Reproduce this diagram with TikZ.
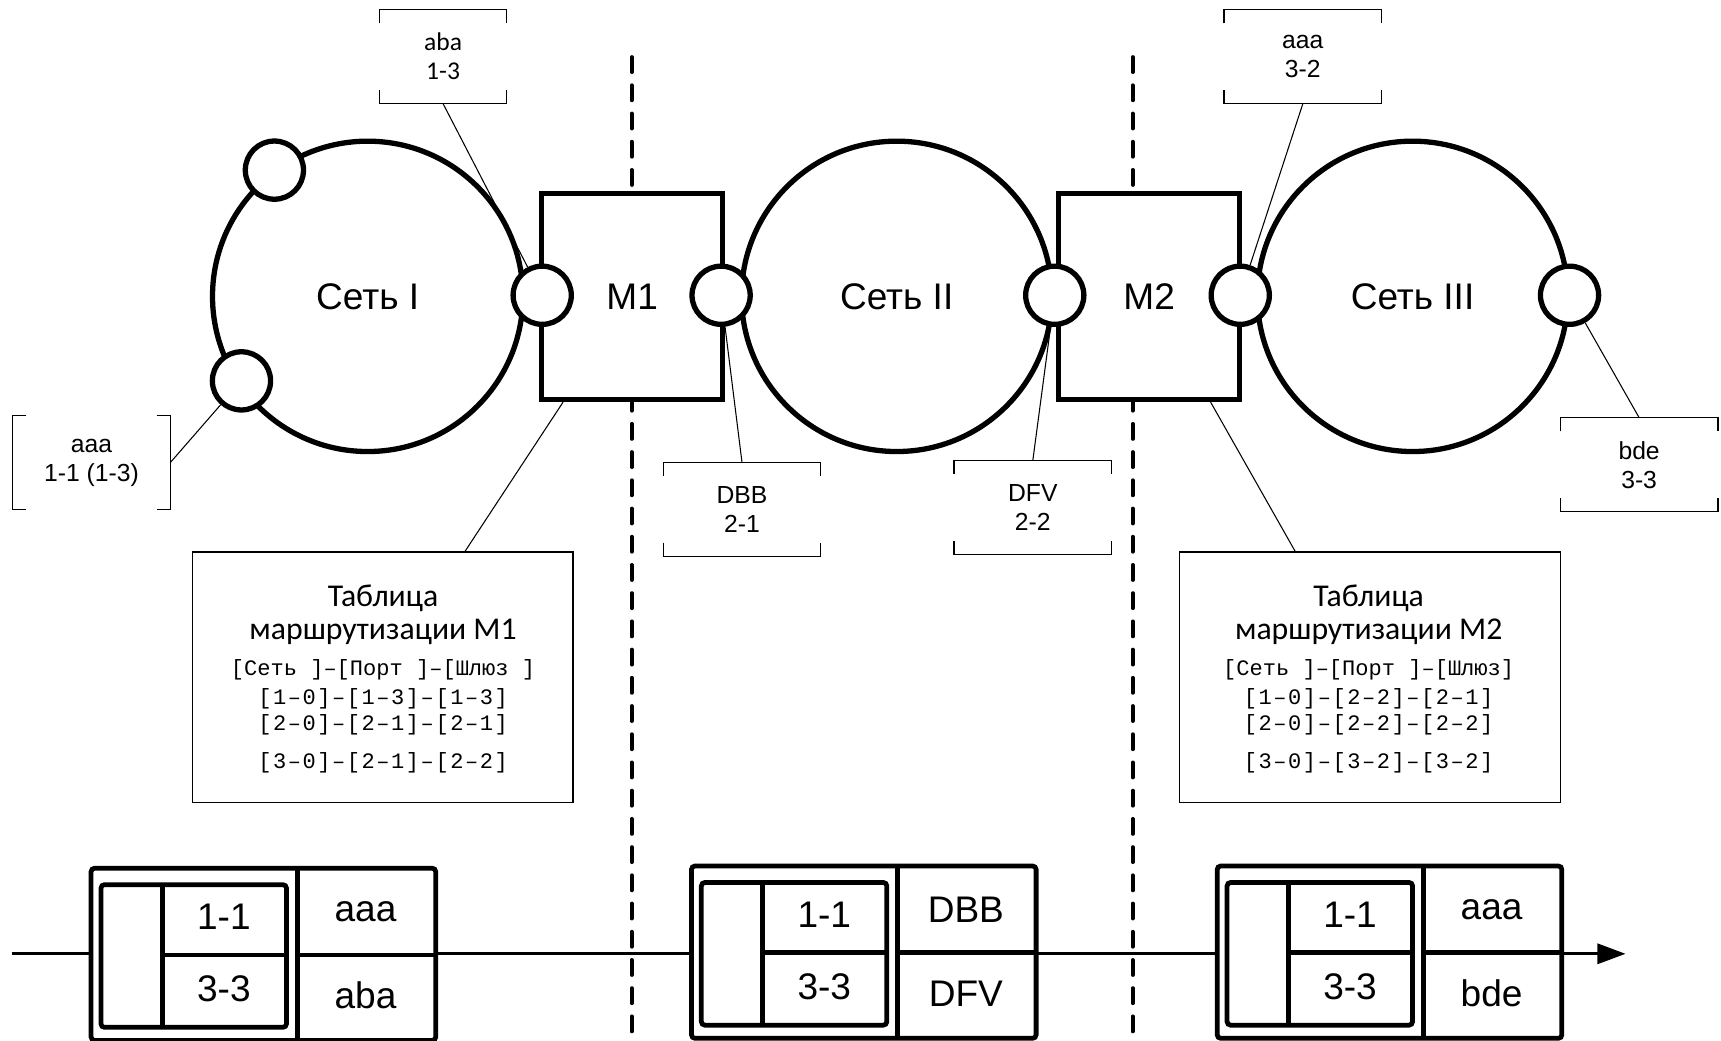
\documentclass[tikz,border=0pt]{standalone}
\usepackage{fontspec}
\setmainfont{Liberation Sans}
\newfontfamily\calfont{Carlito}
\newfontfamily\courfont{Liberation Mono}
\newfontfamily\courwide[LetterSpace=7]{Liberation Mono}
\usetikzlibrary{arrows.meta,calc}

\begin{document}
\begin{tikzpicture}[x=0.6224pt, y=-0.6224pt,
    net/.style={circle, draw, line width=3pt, minimum size=176pt, inner sep=0pt, font=\fontsize{21}{24}\selectfont},
    port/.style={circle, draw, fill=white, line width=3pt, minimum size=33pt, inner sep=0pt},
    router/.style={rectangle, draw, fill=white, line width=3pt, minimum width=102.7pt, minimum height=117pt, font=\fontsize{21}{24}\selectfont},
    lbl/.style={minimum width=89pt, minimum height=53pt, inner sep=0pt, align=center, font=\fontsize{14}{16.5}\selectfont},
    brk/.style={line width=0.7pt},
    leader/.style={line width=0.6pt},
    rtab/.style={draw, line width=0.8pt, minimum width=216pt, minimum height=142pt},
    ttl/.style={anchor=base, font=\calfont\fontsize{18}{20}\selectfont},
    hdr/.style={anchor=base, font=\courfont\fontsize{12.5}{14}\selectfont},
    row/.style={anchor=base, font=\courwide\fontsize{12.5}{14}\selectfont},
    pkt/.style={line width=2.7pt},
    cell/.style={font=\fontsize{21}{24}\selectfont}]
\useasboundingbox (0,0) rectangle (1568,948);

% boundaries between the networks
\draw[line width=2.2pt, dash pattern=on 8.5pt off 7.5pt, line cap=round] (575.5,52) -- (575.5,952);
\draw[line width=2.2pt, dash pattern=on 8.5pt off 7.5pt, line cap=round] (1032,52) -- (1032,952);

% networks and routers
\node[net] (net1) at (335,270) {Сеть I};
\node[net] (net2) at (817,270) {Сеть II};
\node[net] (net3) at (1287,270) {Сеть III};
\node[router] (m1) at (576,270) {M1};
\node[router] (m2) at (1047,270) {M2};

\node[port] (p11) at (220,347) {};
\node[port] (p12) at (250,155) {};
\node[port] (p13) at (494,269) {};
\node[port] (p21) at (657,269) {};
\node[port] (p22) at (961,269) {};
\node[port] (p32) at (1130,269) {};
\node[port] (p33) at (1430,269) {};

% port labels
\node[lbl] (c11) at (83.4,421.4) {aaa\\1-1 (1-3)};
\node[lbl, minimum width=71.6pt, font=\calfont\fontsize{14.5}{16.5}\selectfont] (c13) at (403.7,51.6) {aba\\1-3};
\node[lbl] (c21) at (676,464) {DBB\\2-1};
\node[lbl] (c22) at (941,462.4) {DFV\\2-2};
\node[lbl] (c32) at (1187,51.6) {aaa\\3-2};
\node[lbl] (c33) at (1493.4,423.4) {bde\\3-3};

\draw[brk] (c11.north west) ++(12.5,0) -| (c11.south west) -- ++(12.5,0) (c11.north east) ++(-12.5,0) -| (c11.south east) -- ++(-12.5,0);
\draw[brk] (c13.north west) ++(0,12.5) |- (c13.north east) -- ++(0,12.5) (c13.south west) ++(0,-12.5) |- (c13.south east) -- ++(0,-12.5);
\draw[brk] (c21.north west) ++(0,12.5) |- (c21.north east) -- ++(0,12.5) (c21.south west) ++(0,-12.5) |- (c21.south east) -- ++(0,-12.5);
\draw[brk] (c22.north west) ++(0,12.5) |- (c22.north east) -- ++(0,12.5) (c22.south west) ++(0,-12.5) |- (c22.south east) -- ++(0,-12.5);
\draw[brk] (c32.north west) ++(0,12.5) |- (c32.north east) -- ++(0,12.5) (c32.south west) ++(0,-12.5) |- (c32.south east) -- ++(0,-12.5);
\draw[brk] (c33.north west) ++(0,12.5) |- (c33.north east) -- ++(0,12.5) (c33.south west) ++(0,-12.5) |- (c33.south east) -- ++(0,-12.5);

\draw[leader] (c11.east) -- (p11);
\draw[leader] (c13.south) -- (p13);
\draw[leader] (c21.north) -- (p21);
\draw[leader] (c22.north) -- (p22);
\draw[leader] (c32.south) -- (p32);
\draw[leader] (c33.north) -- (p33);

% routing tables
\node[rtab] (tab1) at (348.7,617) {};
\node[rtab] (tab2) at (1248,617) {};
\draw[leader] ($(tab1.north)+(75,0)$) -- ($(m1.south)+(-63,0)$);
\draw[leader] ($(tab2.north)+(-68,0)$) -- ($(m2.south)+(56,0)$);

\node[ttl] (t1a) at (349,552.7) {Таблица};
\node[ttl] (t1b) at (349,583) {маршрутизации M1};
\node[hdr] (t1c) at (349,615) {[Сеть ]–[Порт ]–[Шлюз ]};
\node[row] (t1d) at (349,642) {[1–0]–[1–3]–[1–3]};
\node[row] (t1e) at (349,666) {[2–0]–[2–1]–[2–1]};
\node[row] (t1f) at (349,700) {[3–0]–[2–1]–[2–2]};

\node[ttl] (t2a) at (1247,552.7) {Таблица};
\node[ttl] (t2b) at (1247,583) {маршрутизации M2};
\node[hdr] (t2c) at (1247,615) {[Сеть ]–[Порт ]–[Шлюз]};
\node[row] (t2d) at (1247,642) {[1–0]–[2–2]–[2–1]};
\node[row] (t2e) at (1247,666) {[2–0]–[2–2]–[2–2]};
\node[row] (t2f) at (1247,700) {[3–0]–[3–2]–[3–2]};

% packet line
\coordinate (lnstart) at (10.5,869);
\coordinate (lnend) at (1481,869);
\draw[line width=1.5pt, -{Triangle[length=16pt,width=11.5pt]}] (lnstart) -- (lnend);

\begin{scope}[shift={(83,791)}]
  \draw[pkt, fill=white, rounded corners=2pt] (0,0) rectangle (314,157);
  \draw[pkt] (188,0) -- (188,157) (188,79) -- (314,79);
  \draw[pkt, rounded corners=2pt] (9,15) rectangle (178,145);
  \draw[pkt] (65,15) -- (65,145) (65,79) -- (178,79);
  \node[cell] (a1) at (121,44) {1-1};
  \node[cell] (a2) at (121,110) {3-3};
  \node[cell] (a3) at (250,40) {aaa};
  \node[cell] (a4) at (250,116) {aba};
\end{scope}

\begin{scope}[shift={(630,789)}]
  \draw[pkt, fill=white, rounded corners=2pt] (0,0) rectangle (314,157);
  \draw[pkt] (188,0) -- (188,157) (188,79) -- (314,79);
  \draw[pkt, rounded corners=2pt] (9,15) rectangle (178,145);
  \draw[pkt] (65,15) -- (65,145) (65,79) -- (178,79);
  \node[cell] (b1) at (121,44) {1-1};
  \node[cell] (b2) at (121,110) {3-3};
  \node[cell] (b3) at (250,40) {DBB};
  \node[cell] (b4) at (250,116) {DFV};
\end{scope}

\begin{scope}[shift={(1109,789)}]
  \draw[pkt, fill=white, rounded corners=2pt] (0,0) rectangle (314,157);
  \draw[pkt] (188,0) -- (188,157) (188,79) -- (314,79);
  \draw[pkt, rounded corners=2pt] (9,15) rectangle (178,145);
  \draw[pkt] (65,15) -- (65,145) (65,79) -- (178,79);
  \node[cell] (d1) at (121,44) {1-1};
  \node[cell] (d2) at (121,110) {3-3};
  \node[cell] (d3) at (250,40) {aaa};
  \node[cell] (d4) at (250,116) {bde};
\end{scope}
\end{tikzpicture}
\end{document}
